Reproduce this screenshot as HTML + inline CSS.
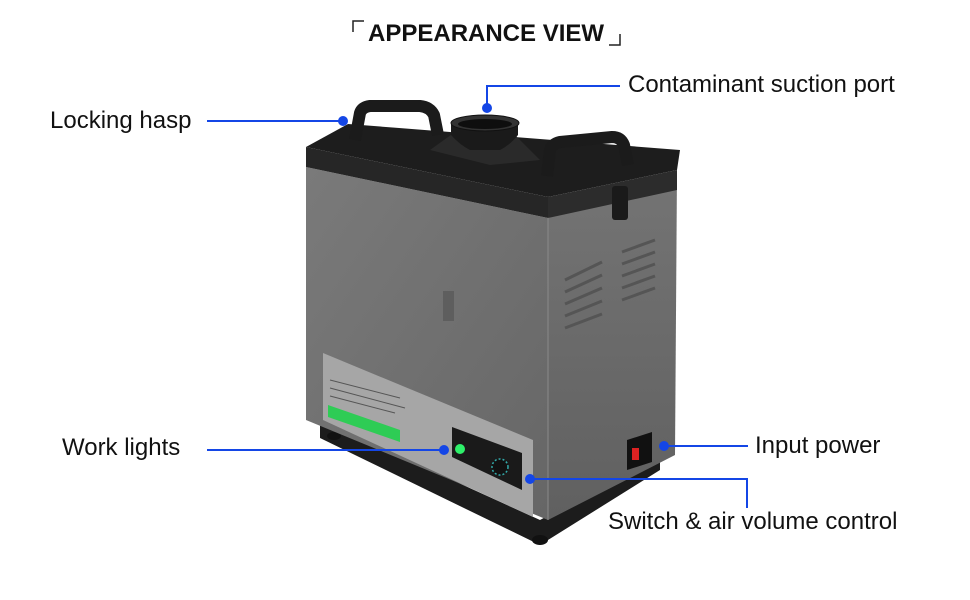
<!DOCTYPE html><html><head><style>
body{margin:0;background:#fff;width:970px;height:600px;overflow:hidden;font-family:"Liberation Sans",sans-serif}
.t{position:absolute;font-size:24px;color:#111;white-space:nowrap}
</style></head><body>
<svg width="970" height="600" style="position:absolute;left:0;top:0">
<defs>
<linearGradient id="fr" x1="0" y1="0" x2="1" y2="1"><stop offset="0" stop-color="#7a7a7a"/><stop offset="1" stop-color="#666"/></linearGradient>
<linearGradient id="sd" x1="0" y1="0" x2="0" y2="1"><stop offset="0" stop-color="#747474"/><stop offset="1" stop-color="#606060"/></linearGradient>
</defs>
<path d="M353,32 V21 H364" stroke="#222" fill="none" stroke-width="1.5"/>
<path d="M620,34 V45 H609" stroke="#222" fill="none" stroke-width="1.5"/>
<polygon points="320,420 540,520 660,455 660,470 540,545 320,438" fill="#1c1c1c"/>
<ellipse cx="540" cy="540" rx="8" ry="5" fill="#111"/>
<ellipse cx="334" cy="436" rx="7" ry="4" fill="#111"/>
<polygon points="306,167 548,218 548,520 306,420" fill="url(#fr)"/>
<polygon points="548,218 677,172 675,455 548,520" fill="url(#sd)"/>
<line x1="548" y1="218" x2="548" y2="520" stroke="#8a8a8a" stroke-width="1"/>
<g stroke="#555" stroke-width="3">
<line x1="565" y1="280" x2="602" y2="262"/><line x1="565" y1="292" x2="602" y2="275"/><line x1="565" y1="304" x2="602" y2="288"/><line x1="565" y1="316" x2="602" y2="301"/><line x1="565" y1="328" x2="602" y2="314"/>
<line x1="622" y1="252" x2="655" y2="240"/><line x1="622" y1="264" x2="655" y2="252"/><line x1="622" y1="276" x2="655" y2="264"/><line x1="622" y1="288" x2="655" y2="276"/><line x1="622" y1="300" x2="655" y2="288"/>
</g>
<rect x="443" y="291" width="11" height="30" fill="#5e5e5e"/>
<polygon points="323,353 533,440 533,517 323,420" fill="#a6a6a6"/>
<polygon points="328,405 400,430 400,442 328,417" fill="#2ecc55"/>
<g stroke="#555" stroke-width="1"><line x1="330" y1="380" x2="400" y2="398"/><line x1="330" y1="388" x2="405" y2="408"/><line x1="330" y1="396" x2="395" y2="413"/></g>
<polygon points="452,427 522,453 522,490 452,457" fill="#1a1a1a"/>
<circle cx="460" cy="449" r="5" fill="#2ef06a"/>
<circle cx="500" cy="467" r="8" fill="#111" stroke="#3aa" stroke-width="1.5" stroke-dasharray="2 2"/>
<polygon points="627,440 652,432 652,462 627,470" fill="#111"/>
<rect x="632" y="448" width="7" height="12" fill="#d22"/>
<polygon points="306,147 348,124 680,150 677,170 548,197" fill="#1d1d1d"/>
<polygon points="306,147 548,197 548,218 306,167" fill="#262626"/>
<polygon points="548,197 677,170 677,190 548,218" fill="#2c2c2c"/>
<rect x="612" y="186" width="16" height="34" rx="3" fill="#1a1a1a"/>
<polygon points="430,150 455,132 515,135 540,160 490,165" fill="#2a2a2a"/>
<path d="M451,124 L451,135 Q460,145 470,150 L500,150 Q510,145 518,135 L518,124 Z" fill="#1a1a1a"/>
<ellipse cx="485" cy="123" rx="34" ry="8" fill="#333" stroke="#111"/>
<ellipse cx="485" cy="124" rx="27" ry="5" fill="#0e0e0e"/>
<path d="M355,140 L360,113 Q362,107 370,106 L420,106 Q430,107 434,115 L438,135" stroke="#1b1b1b" stroke-width="12" fill="none" stroke-linejoin="round"/>
<path d="M547,176 L550,150 Q552,144 560,142 L612,137 Q621,137 624,145 L628,165" stroke="#1b1b1b" stroke-width="12" fill="none" stroke-linejoin="round"/>
<g stroke="#1446e6" stroke-width="2" fill="none">
<line x1="207" y1="121" x2="343" y2="121"/>
<polyline points="620,86 487,86 487,108"/>
<line x1="207" y1="450" x2="444" y2="450"/>
<line x1="664" y1="446" x2="748" y2="446"/>
<polyline points="530,479 747,479 747,508"/>
</g>
<g fill="#1446e6">
<circle cx="343" cy="121" r="5"/><circle cx="487" cy="108" r="5"/><circle cx="444" cy="450" r="5"/><circle cx="664" cy="446" r="5"/><circle cx="530" cy="479" r="5"/>
</g>
</svg>
<div class="t" style="left:368px;top:20px;font-weight:bold;font-size:24px">APPEARANCE VIEW</div>
<div class="t" style="left:50px;top:107px">Locking hasp</div>
<div class="t" style="left:628px;top:71px">Contaminant suction port</div>
<div class="t" style="left:62px;top:434px">Work lights</div>
<div class="t" style="left:755px;top:432px">Input power</div>
<div class="t" style="left:608px;top:508px">Switch &amp; air volume control</div>
</body></html>
